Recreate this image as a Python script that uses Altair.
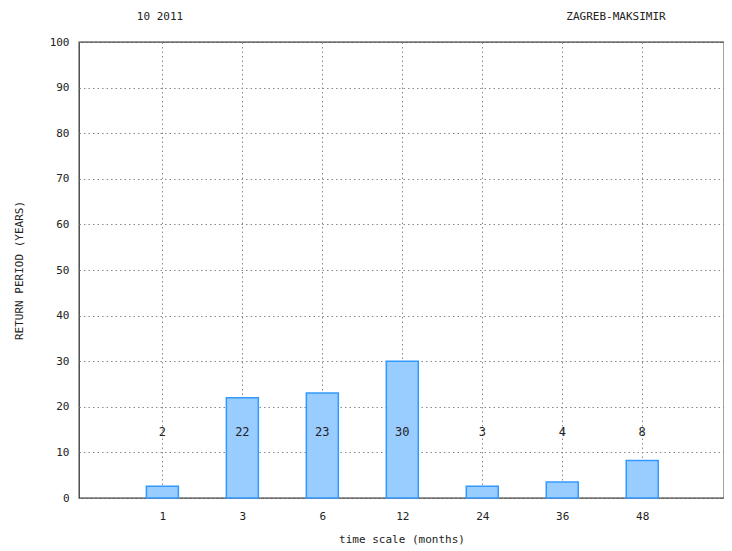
import altair as alt
import pandas as pd

categories = ["1", "3", "6", "12", "24", "36", "48"]
positions = [1, 2, 3, 4, 5, 6, 7]
bar_values = [2.6, 22, 23, 30, 2.6, 3.5, 8.2]
label_texts = ["2", "22", "23", "30", "3", "4", "8"]
label_level = 14.5

df = pd.DataFrame({"pos": positions, "cat": categories, "val": bar_values,
                   "lab": label_texts, "lev": [label_level] * len(positions)})

FONT = "DejaVu Sans Mono"
labels_js = "{" + ",".join(f"'{p}':'{c}'" for p, c in zip(positions, categories)) + "}"

x = alt.X("pos:Q", scale=alt.Scale(domain=[0.02, 7.96], nice=False),
          axis=alt.Axis(values=positions, labelExpr=f"{labels_js}[datum.value] || ''",
                        title="time scale (months)", grid=True, ticks=False,
                        labelPadding=12, titlePadding=12, domain=False))
y = alt.Y("val:Q", scale=alt.Scale(domain=[0, 100], nice=False),
          axis=alt.Axis(values=list(range(0, 101, 10)), title="RETURN PERIOD (YEARS)",
                        grid=True, ticks=False, labelPadding=10, titlePadding=25, domain=False))

bars = alt.Chart(df).mark_bar(size=32, color="#99ccff", stroke="#3399ff", strokeWidth=1.5).encode(x=x, y=y)
texts = alt.Chart(df).mark_text(font=FONT, fontSize=12, color="#222").encode(
    x="pos:Q", y="lev:Q", text="lab:N")
t1 = alt.Chart(pd.DataFrame({"t": ["10 2011"]})).mark_text(font=FONT, fontSize=11, color="#222").encode(
    x=alt.value(81), y=alt.value(-25), text="t:N")
t2 = alt.Chart(pd.DataFrame({"t": ["ZAGREB-MAKSIMIR"]})).mark_text(font=FONT, fontSize=11, color="#222").encode(
    x=alt.value(537), y=alt.value(-25), text="t:N")

chart = alt.layer(bars, texts, t1, t2).properties(
    width=645, height=456,
    background="white",
    autosize=alt.AutoSizeParams(type="none"),
    padding={"left": 71, "top": 34, "right": 0, "bottom": 51},
).configure_view(stroke="#333", strokeWidth=1.3).configure_axis(
    labelFont=FONT, titleFont=FONT, labelFontSize=11, titleFontSize=11,
    titleFontWeight="normal", labelColor="#222", titleColor="#222",
    gridColor="#888", gridDash=[1.5, 3], gridWidth=1,
)

chart.save("out.html", embed_options={"renderer": "svg", "actions": False})
